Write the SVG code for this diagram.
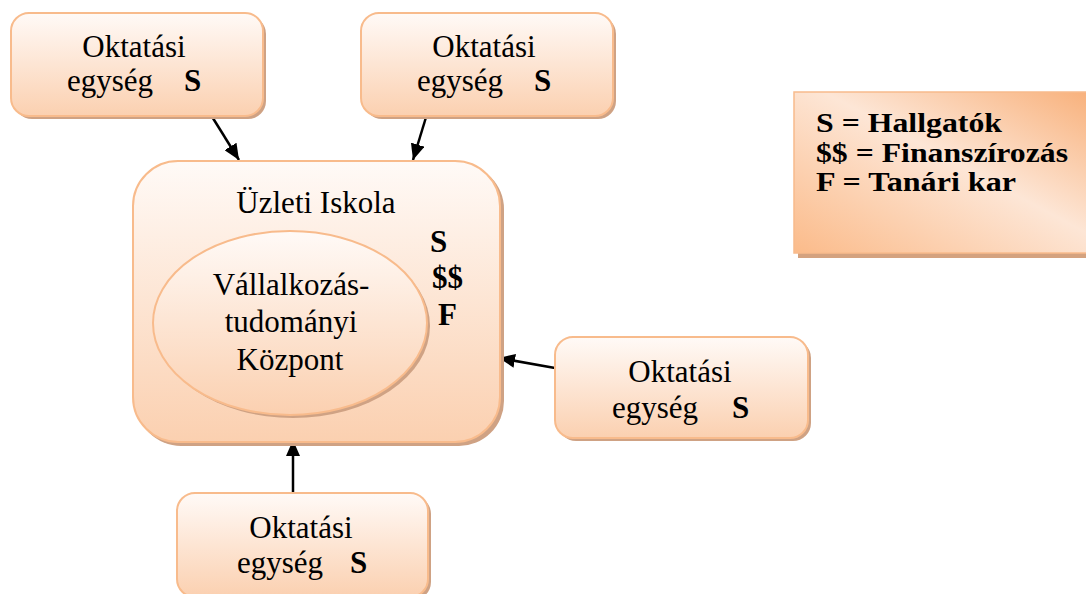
<svg xmlns="http://www.w3.org/2000/svg" width="1086" height="594" viewBox="0 0 1086 594">
  <defs>
    <linearGradient id="peach" x1="0" y1="0" x2="0" y2="1">
      <stop offset="0" stop-color="#fffaf7"/>
      <stop offset="1" stop-color="#fbd0b0"/>
    </linearGradient>
    <linearGradient id="legendFill" x1="0" y1="1" x2="1" y2="0">
      <stop offset="0" stop-color="#fbbb8a"/>
      <stop offset="0.55" stop-color="#fde6d6"/>
      <stop offset="1" stop-color="#f8b07a"/>
    </linearGradient>
    <marker id="arrow" viewBox="0 0 16 14" refX="16" refY="7" markerWidth="16" markerHeight="14" markerUnits="userSpaceOnUse" orient="auto">
      <path d="M0,0 L16,7 L0,14 z" fill="#000"/>
    </marker>
  </defs>
  <style>
    .box { fill: url(#peach); stroke: #f8bb8c; stroke-width: 2; }
    .shadow { fill: #cfa284; }
    text { font-family: 'Liberation Serif', 'Tinos', 'Times New Roman', 'DejaVu Serif', serif; fill: #000; }
    .t { font-size: 31px; }
    .b { font-size: 31px; font-weight: bold; }
    .lg { font-size: 27px; font-weight: bold; }
    .conn { stroke: #000; stroke-width: 2.5; fill: none; marker-end: url(#arrow); }
  </style>

  <rect width="1086" height="594" fill="#ffffff"/>

  <!-- connectors -->
  <g id="connectors">
    <line class="conn" x1="211" y1="115" x2="239" y2="160"/>
    <line class="conn" x1="427" y1="114" x2="413" y2="160"/>
    <line class="conn" x1="555" y1="368" x2="499" y2="358"/>
    <line class="conn" x1="293" y1="493" x2="293" y2="440"/>
  </g>

  <!-- business school -->
  <g id="school">
    <rect class="shadow" x="136" y="164" width="368" height="282" rx="45"/>
    <rect class="box" x="133" y="161" width="367" height="281" rx="45"/>
    <text class="t" x="316" y="213" text-anchor="middle">Üzleti Iskola</text>
    <text class="b" x="430" y="252">S</text>
    <text class="b" x="432" y="288">$$</text>
    <text class="b" x="438" y="325">F</text>
  </g>

  <!-- entrepreneurship centre -->
  <g id="centre">
    <ellipse class="shadow" cx="293" cy="326" rx="137" ry="92"/>
    <ellipse class="box" cx="290" cy="323" rx="137" ry="92"/>
    <text class="t" x="291" y="295" text-anchor="middle">Vállalkozás-</text>
    <text class="t" x="291" y="332" text-anchor="middle">tudományi</text>
    <text class="t" x="290" y="370" text-anchor="middle">Központ</text>
  </g>

  <!-- teaching units -->
  <g id="unit-top-left">
    <rect class="shadow" x="14" y="16" width="252" height="103" rx="18"/>
    <rect class="box" x="11" y="13" width="252" height="103" rx="18"/>
    <text class="t" x="134" y="57" text-anchor="middle">Oktatási</text>
    <text class="t" x="67" y="91">egység</text>
    <text class="b" x="184" y="91">S</text>
  </g>

  <g id="unit-top-right">
    <rect class="shadow" x="364" y="16" width="252" height="103" rx="18"/>
    <rect class="box" x="361" y="13" width="252" height="103" rx="18"/>
    <text class="t" x="484" y="57" text-anchor="middle">Oktatási</text>
    <text class="t" x="417" y="91">egység</text>
    <text class="b" x="534" y="91">S</text>
  </g>

  <g id="unit-right">
    <rect class="shadow" x="558" y="340" width="253" height="101" rx="18"/>
    <rect class="box" x="555" y="337" width="253" height="101" rx="18"/>
    <text class="t" x="680" y="382" text-anchor="middle">Oktatási</text>
    <text class="t" x="612" y="418">egység</text>
    <text class="b" x="732" y="418">S</text>
  </g>

  <g id="unit-bottom">
    <rect class="shadow" x="180" y="496" width="251" height="104" rx="18"/>
    <rect class="box" x="177" y="493" width="251" height="104" rx="18"/>
    <text class="t" x="301" y="538" text-anchor="middle">Oktatási</text>
    <text class="t" x="237" y="573">egység</text>
    <text class="b" x="350" y="573">S</text>
  </g>

  <!-- legend -->
  <g id="legend">
    <rect x="798" y="96" width="300" height="162" fill="#d4a27f"/>
    <rect x="794" y="92" width="300" height="161" fill="url(#legendFill)" stroke="#f8bb8c" stroke-width="1.5"/>
    <text class="lg" x="816" y="132" textLength="186" lengthAdjust="spacingAndGlyphs">S = Hallgatók</text>
    <text class="lg" x="816" y="162" textLength="252" lengthAdjust="spacingAndGlyphs">$$ = Finanszírozás</text>
    <text class="lg" x="816" y="191" textLength="200" lengthAdjust="spacingAndGlyphs">F = Tanári kar</text>
  </g>
</svg>
